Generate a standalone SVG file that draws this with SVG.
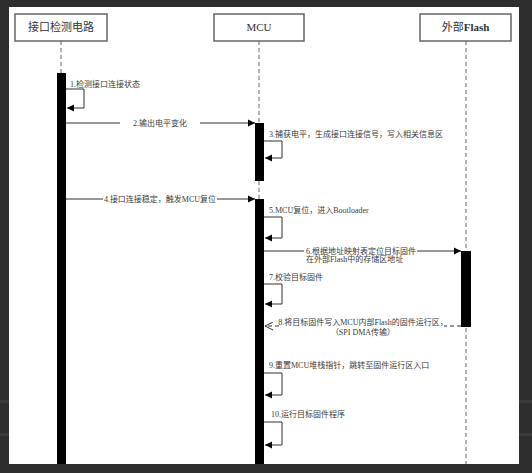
<svg xmlns="http://www.w3.org/2000/svg" width="532" height="473" viewBox="0 0 532 473">
<style>
.box{fill:#fff;stroke:#666;stroke-width:1.5}
.bt{font-family:"Liberation Serif","Noto Sans CJK SC",serif;font-size:11px;fill:#333;text-anchor:middle}
.life{stroke:#666;stroke-width:1;stroke-dasharray:4 3;fill:none}
.bar{fill:#000}
.msg{stroke:#333;stroke-width:1;fill:none}
.ret{stroke:#333;stroke-width:1;fill:none;stroke-dasharray:4 3}
.lt{font-family:"Liberation Serif","Noto Sans CJK SC",serif;font-size:8px;fill:#3a3a3a}
.lc{text-anchor:middle}
</style>
<defs>
<marker id="fa" markerWidth="8" markerHeight="8" refX="7" refY="4" orient="auto" markerUnits="userSpaceOnUse">
<path d="M0,0.5 L7,4 L0,7.5 Z" fill="#000"/>
</marker>
<marker id="oa" markerWidth="9" markerHeight="9" refX="8" refY="4.5" orient="auto" markerUnits="userSpaceOnUse">
<path d="M0,0.5 L8,4.5 L0,8.5" fill="none" stroke="#333" stroke-width="1"/>
</marker>
</defs>
<rect x="0" y="0" width="532" height="473" fill="#2d2d2d"/>
<rect x="0" y="400" width="9" height="3" fill="#3a3a3a"/>
<rect x="519" y="400" width="13" height="3" fill="#3a3a3a"/>
<rect x="0" y="433" width="9" height="3" fill="#3a3a3a"/>
<rect x="519" y="433" width="13" height="3" fill="#3a3a3a"/>
<rect x="9" y="7" width="510" height="457" fill="#fff"/>

<g id="lifelines">
<line class="life" x1="61" y1="41" x2="61" y2="464"/>
<line class="life" x1="259" y1="41" x2="259" y2="464"/>
<line class="life" x1="466" y1="41" x2="466" y2="464"/>
</g>

<g id="node-detect">
<rect class="box" x="15" y="14" width="92" height="27"/>
<text class="bt" x="61" y="31">接口检测电路</text>
<rect class="bar" x="57" y="73" width="9" height="391"/>
</g>
<g id="node-mcu">
<rect class="box" x="214" y="14" width="90" height="27"/>
<text class="bt" x="259" y="31">MCU</text>
<rect class="bar" x="255" y="123" width="9" height="58"/>
<rect class="bar" x="255" y="199" width="9" height="265"/>
</g>
<g id="node-flash">
<rect class="box" x="420" y="14" width="91" height="27"/>
<text class="bt" x="465.5" y="31">外部<tspan font-weight="bold">Flash</tspan></text>
<rect class="bar" x="461" y="251" width="10" height="76"/>
</g>

<g id="connectors">
<path class="msg" d="M66 89 H84 V108 H67" marker-end="url(#fa)"/>
<line class="msg" x1="66" y1="123" x2="255" y2="123" marker-end="url(#fa)"/>
<path class="msg" d="M264 141 H282 V158 H265" marker-end="url(#fa)"/>
<line class="msg" x1="66" y1="199" x2="255" y2="199" marker-end="url(#fa)"/>
<path class="msg" d="M264 217 H282 V238 H265" marker-end="url(#fa)"/>
<line class="msg" x1="264" y1="251" x2="461" y2="251" marker-end="url(#fa)"/>
<path class="msg" d="M264 284 H282 V304 H265" marker-end="url(#fa)"/>
<line class="ret" x1="461" y1="326" x2="265" y2="326" marker-end="url(#oa)"/>
<path class="msg" d="M264 373 H282 V395 H265" marker-end="url(#fa)"/>
<path class="msg" d="M264 422 H282 V445 H265" marker-end="url(#fa)"/>
</g>

<g id="labels">
<text class="lt" x="70" y="87">1.检测接口连接状态</text>
<rect x="120" y="118" width="80" height="10" fill="#fff"/>
<text class="lt lc" x="160" y="126">2.输出电平变化</text>
<text class="lt" x="269" y="137">3.捕获电平，生成接口连接信号，写入相关信息区</text>
<rect x="103" y="194" width="114" height="10" fill="#fff"/>
<text class="lt lc" x="160" y="202">4.接口连接稳定，触发MCU复位</text>
<text class="lt" x="269" y="213">5.MCU复位，进入Bootloader</text>
<rect x="304" y="245" width="113" height="18" fill="#fff"/>
<text class="lt" x="306" y="253.5" font-size="7.5">6.根据地址映射表定位目标固件</text>
<text class="lt" x="306" y="261.5" font-size="7.5">在外部Flash中的存储区地址</text>
<text class="lt" x="269" y="280">7.校验目标固件</text>
<rect x="282" y="317" width="162" height="19" fill="#fff"/>
<text class="lt lc" x="363" y="325" font-size="7.5">8.将目标固件写入MCU内部Flash的固件运行区，</text>
<text class="lt lc" x="363" y="335" font-size="7.5">（SPI DMA传输）</text>
<text class="lt" x="269" y="368">9.重置MCU堆栈指针，跳转至固件运行区入口</text>
<text class="lt" x="271" y="417">10.运行目标固件程序</text>
</g>
</svg>
